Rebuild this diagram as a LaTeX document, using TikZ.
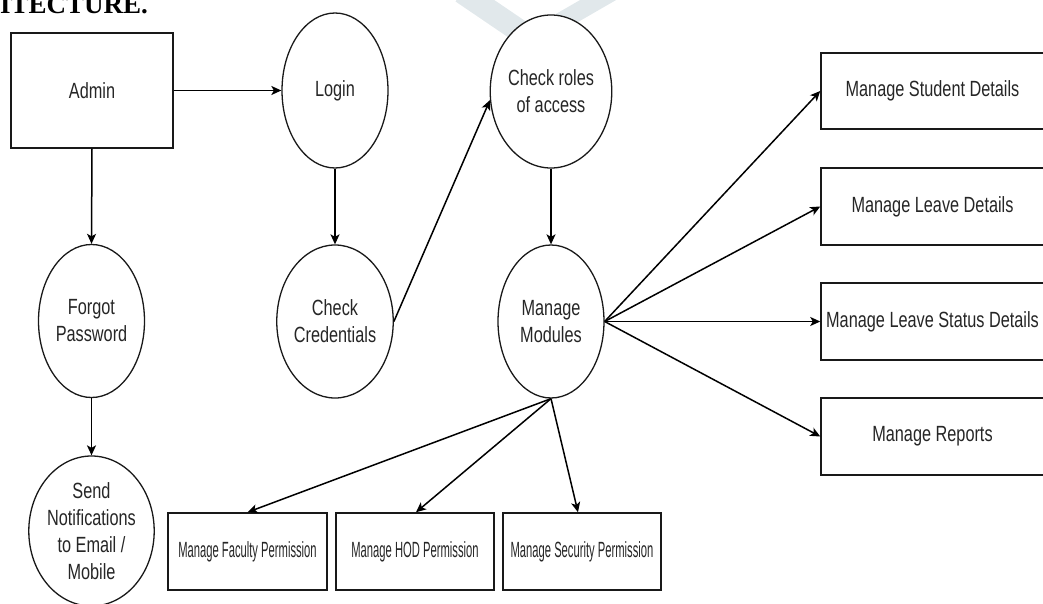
\documentclass[tikz,border=0pt]{standalone}
\usepackage{fontspec}
\setmainfont{Liberation Sans}[FakeStretch=0.74]
\newfontfamily\narrowfont{Liberation Sans}[FakeStretch=0.51]
\newfontfamily\hdrfont{Liberation Serif}
\usetikzlibrary{shapes.geometric,arrows.meta}
\begin{document}
\begin{tikzpicture}[x=1pt,y=-1pt,
  every node/.style={text=black!85, font=\fontsize{22}{27}\selectfont, align=center, inner sep=0pt},
  oval/.style={ellipse, draw=black!90, line width=1.3pt, fill=white, minimum width=106pt, minimum height=153pt},
  box/.style={rectangle, draw=black!90, line width=1.5pt, fill=white, minimum height=77pt},
  narrowbox/.style={box, font=\narrowfont\fontsize{22}{27}\selectfont},
  arr/.style={line width=1.5pt, draw=black, -{Stealth[length=10pt,width=9pt,inset=2.5pt]}},
  band/.style={line width=23pt, draw=cyan!20!gray!22}]
\useasboundingbox (0,0) rectangle (1043,604);
\begin{scope}
\clip (0,0) rectangle (1043,604);
% faint watermark bands
\draw[band] (462,-8) -- (540,45);
\draw[band, line width=18pt] (612,-8) -- (560,22);
% heading fragment
\node[anchor=base west, font=\hdrfont\bfseries\fontsize{27}{27}\selectfont, text=black] (hdr) at (0,13.5) {ITECTURE.};
% nodes
\node[box, minimum width=162pt, minimum height=115pt] (admin) at (92,90.5) {Admin};
\node[oval, minimum height=155pt] (login) at (335,90.5) {Login};
\node[oval] (roles) at (551,91.5) {Check roles\\of access};
\node[oval] (forgot) at (91.5,321) {Forgot\\Password};
\node[oval] (cred) at (335,321.5) {Check\\Credentials};
\node[oval] (mods) at (551,321.5) {Manage\\Modules};
\node[oval, minimum width=108pt, minimum height=150pt] (send) at (91.5,531) {Send\\Notifications\\to Email /\\Mobile};
\node[box, minimum width=223pt, minimum height=76pt] (stud) at (932.5,91) {Manage Student Details};
\node[box, minimum width=223pt] (leave) at (932.5,206.5) {Manage Leave Details};
\node[box, minimum width=223pt] (status) at (932.5,321.5) {Manage Leave Status Details};
\node[box, minimum width=223pt] (reports) at (932.5,436.5) {Manage Reports};
\node[narrowbox, minimum width=159pt] (fac) at (247.5,551.5) {Manage Faculty Permission};
\node[narrowbox, minimum width=158pt] (hod) at (415,551.5) {Manage HOD Permission};
\node[narrowbox, minimum width=158pt] (sec) at (582,551.5) {Manage Security Permission};
% connectors
\draw[arr] (admin.east) -- (login.west);
\draw[arr] (admin.south) -- (forgot.north);
\draw[arr] (forgot.south) -- (send.north);
\draw[arr] (login.south) -- (cred.north);
\draw[arr] (cred.east) -- (roles.-172);
\draw[arr] (roles.south) -- (mods.north);
\draw[arr] (mods.east) -- (stud.west);
\draw[arr] (mods.east) -- (leave.west);
\draw[arr] (mods.east) -- (status.west);
\draw[arr] (mods.east) -- (reports.west);
\draw[arr] (mods.south) -- (fac.north);
\draw[arr] (mods.south) -- ([xshift=1pt]hod.north);
\draw[arr] (mods.south) -- ([xshift=-4pt]sec.north);
\end{scope}
\end{tikzpicture}
\end{document}
